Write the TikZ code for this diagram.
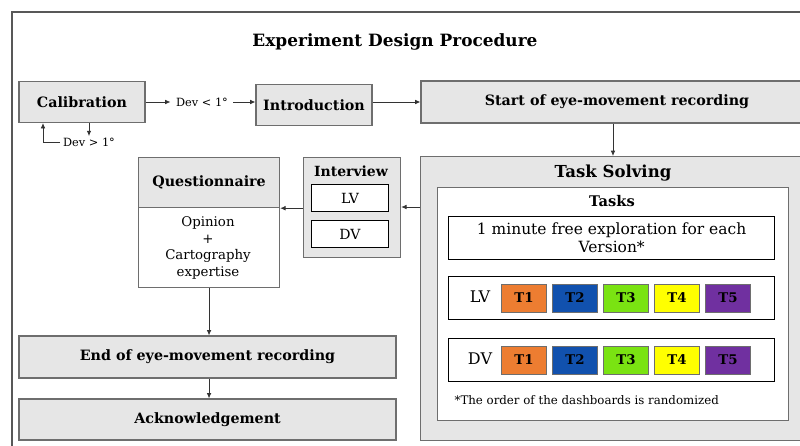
\documentclass[tikz,border=0pt]{standalone}
\usepackage{fontspec}
\setmainfont{DejaVu Serif}
\usetikzlibrary{arrows.meta}
\definecolor{boxgray}{HTML}{E6E6E6}
\definecolor{edgegray}{HTML}{6E6E6E}
\definecolor{torange}{HTML}{ED7D31}
\definecolor{tblue}{HTML}{1151AE}
\definecolor{tgreen}{HTML}{7AE312}
\definecolor{tyellow}{HTML}{FFFF00}
\definecolor{tpurple}{HTML}{7030A0}
\tikzset{
  step box/.style={draw=edgegray, fill=boxgray, line width=0.9pt, inner sep=0pt,
    font=\bfseries\fontsize{10.7}{12}\selectfont},
  white box/.style={draw=black, fill=white, line width=0.9pt, inner sep=0pt},
  task box/.style={draw=edgegray, line width=0.6pt, minimum width=45*0.75pt,
    minimum height=28*0.75pt, inner sep=0pt, font=\bfseries\fontsize{10}{11}\selectfont},
  arr/.style={draw=black!80, line width=0.6pt, -{Latex[length=4pt,width=3.5pt]}},
  plain/.style={font=\fontsize{8.5}{10}\selectfont, inner sep=1pt}
}
\begin{document}
\begin{tikzpicture}[x=0.75pt, y=-0.75pt]
\useasboundingbox (0,0) rectangle (800,446);

% frame
\draw[edgegray!80!black, line width=0.8pt] (12,455) -- (12,12) -- (810,12);
\node[font=\bfseries\fontsize{12.7}{14}\selectfont] (title) at (395,42) {Experiment Design Procedure};

% first row
\node[step box, minimum width=126*0.75pt, minimum height=41*0.75pt] (calib) at (82,102) {Calibration};
\node[plain, inner xsep=4pt] (devlt) at (202,102) {Dev < 1°};
\node[step box, minimum width=116*0.75pt, minimum height=41*0.75pt] (intro) at (314,105) {Introduction};
\node[step box, minimum width=392*0.75pt, minimum height=42*0.75pt] (start) at (617,102) {Start of eye-movement recording};
\draw[arr] (calib) -- (devlt);
\draw[arr] (devlt) -- (intro.west |- devlt);
\draw[arr] (intro.east |- start) -- (start);

% calibration loop
\node[plain, inner xsep=2pt] (devgt) at (89,142) {Dev > 1°};
\coordinate (loop) at (43,142);
\draw[arr] (calib.south -| devgt) -- (devgt.north);
\draw[arr] (devgt.west) -- (loop) -- (loop |- calib.south);

% task solving
\node[step box, anchor=north west, minimum width=400*0.75pt, minimum height=284*0.75pt] (solve) at (420,156) {};
\node[font=\bfseries\fontsize{12.4}{14}\selectfont] (solvetitle) at (613,173) {Task Solving};
\draw[arr] (start.south -| solvetitle) -- (solve.north -| solvetitle);
\node[draw=edgegray, fill=white, line width=0.8pt, anchor=north west, minimum width=351*0.75pt, minimum height=233*0.75pt] (tasks) at (437,187) {};
\node[font=\bfseries\fontsize{11}{12}\selectfont] (taskstitle) at (612,201) {Tasks};
\node[white box, anchor=north west, minimum width=326*0.75pt, minimum height=43*0.75pt, align=center,
  font=\fontsize{11.6}{13.5}\selectfont] (explore) at (448,216) {1 minute free exploration for each\\Version*};
\foreach \row/\ypos in {LV/276, DV/338}{
  \node[white box, anchor=north west, minimum width=326*0.75pt, minimum height=43*0.75pt] (row\row) at (448,\ypos) {};
  \node[font=\fontsize{12}{13}\selectfont] (lab\row) at (480,\ypos+21) {\row};
  \foreach \t/\xpos/\col in {1/524/torange, 2/575/tblue, 3/626/tgreen, 4/677/tyellow, 5/728/tpurple}
    \node[task box, fill=\col] (t\t\row) at (\xpos,\ypos+22) {T\t};
}
\node[plain, font=\fontsize{8.85}{10}\selectfont, anchor=west] (note) at (453,400) {*The order of the dashboards is randomized};

% interview
\node[step box, anchor=north west, minimum width=97*0.75pt, minimum height=100*0.75pt] (interview) at (303,157) {};
\node[font=\bfseries\fontsize{10.5}{12}\selectfont] (inttitle) at (351,171) {Interview};
\node[white box, minimum width=77*0.75pt, minimum height=27*0.75pt, font=\fontsize{10.5}{12}\selectfont] (intlv) at (350,198) {LV};
\node[white box, minimum width=77*0.75pt, minimum height=27*0.75pt, font=\fontsize{10.5}{12}\selectfont] (intdv) at (350,234) {DV};
\draw[arr] (solve.west |- 0,207) -- (interview.east |- 0,207);

% questionnaire
\node[draw=edgegray, fill=white, line width=0.8pt, anchor=north west, minimum width=141*0.75pt, minimum height=130*0.75pt] (quest) at (138,157) {};
\node[step box, anchor=north west, minimum width=141*0.75pt, minimum height=50*0.75pt] (questhead) at (138,157) {Questionnaire};
\node[align=center, font=\fontsize{10}{12.6}\selectfont] (opinion) at (208,248) {Opinion\\+\\Cartography\\expertise};
\draw[arr] (interview.west |- questhead.south) -- (questhead.south east);

% end
\node[step box, minimum width=377*0.75pt, minimum height=42*0.75pt] (endrec) at (207.5,357) {End of eye-movement recording};
\node[step box, minimum width=377*0.75pt, minimum height=41*0.75pt] (ack) at (207.5,419.5) {Acknowledgement};
\draw[arr] (quest.south) -- (endrec.north -| quest.south);
\draw[arr] (endrec.south -| quest.south) -- (ack.north -| quest.south);
\end{tikzpicture}
\end{document}
